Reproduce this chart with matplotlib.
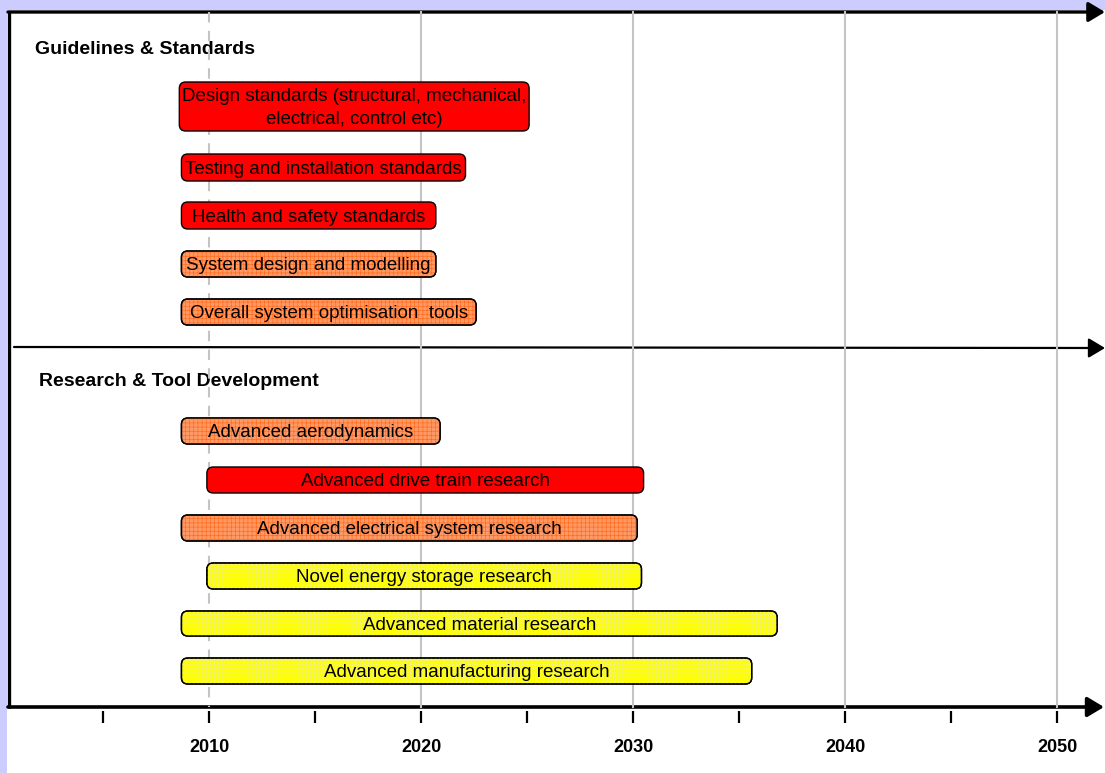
import matplotlib
matplotlib.use('Agg')
import matplotlib.pyplot as plt
from matplotlib.patches import FancyBboxPatch, Rectangle
import numpy as np

plt.rcParams['font.family'] = ['Liberation Sans', 'DejaVu Sans']
plt.rcParams['hatch.linewidth'] = 0.45

# roadmap items: label, start year, end year, colour class
labels = ['Design standards (structural, mechanical,\nelectrical, control etc)',
          'Testing and installation standards',
          'Health and safety standards',
          'System design and modelling',
          'Overall system optimisation  tools',
          'Advanced aerodynamics',
          'Advanced drive train research',
          'Advanced electrical system research',
          'Novel energy storage research',
          'Advanced material research',
          'Advanced manufacturing research']
starts = [2008.6, 2008.7, 2008.7, 2008.7, 2008.7, 2008.7, 2009.9, 2008.7, 2009.9, 2008.7, 2008.7]
ends = [2025.1, 2022.1, 2020.7, 2020.7, 2022.6, 2020.9, 2030.5, 2030.2, 2030.4, 2036.8, 2035.6]
kinds = ['red', 'red', 'red', 'orange', 'orange', 'orange', 'red', 'orange', 'yellow', 'yellow', 'yellow']
sections = ['Guidelines & Standards', 'Research & Tool Development']

major_years = [2010, 2020, 2030, 2040, 2050]
minor_years = [2005, 2010, 2015, 2020, 2025, 2030, 2035, 2040, 2045, 2050]

# layout (pixel rows)
rows_top = [82, 154, 202, 251, 299, 418, 467, 515, 563, 611, 658]
rows_h = [49, 27, 27, 26, 26, 26, 26, 26, 26, 25, 26]
styles = {'red': ('#ff0000', None, None),
          'orange': ('#ff9966', '#ff6a1a', '++++'),
          'yellow': ('#ffff00', '#f2f27a', '++++')}

W, H = 1105, 773
fig = plt.figure(figsize=(W / 100, H / 100), dpi=100, facecolor='#ccccff')

# frame axes in pixels
bg = fig.add_axes([0, 0, 1, 1])
bg.set_xlim(0, W)
bg.set_ylim(H, 0)
bg.axis('off')
bg.add_patch(Rectangle((7, 10), W - 7, H - 10, facecolor='white', edgecolor='none'))

# data axes: years across, pixel rows down
px0, px_per_year = 103.0, 21.2
ax = fig.add_axes([0, 0, 1, 1])
ax.set_xlim(2005 - px0 / px_per_year, 2005 + (W - px0) / px_per_year)
ax.set_ylim(H, 0)
ax.axis('off')
ax.patch.set_alpha(0)

# gridlines
for yr in major_years:
    if yr == 2010:
        ax.plot([yr, yr], [12, 707], color='#c4c4c4', lw=1.5, ls=(0, (5, 4)), zorder=1)
    else:
        ax.plot([yr, yr], [12, 707], color='#c4c4c4', lw=1.5, zorder=1)

# frame lines and arrows
bg.plot([8.5, 8.5], [12, 708], color='black', lw=2.4, solid_capstyle='butt', zorder=3)
arrow_kw = dict(arrowstyle='-|>,head_length=0.5,head_width=0.3', color='black',
                shrinkA=0, shrinkB=0, mutation_scale=20)
bg.annotate('', xy=(1105, 12), xytext=(8, 12), arrowprops=dict(lw=2.4, **arrow_kw),
            annotation_clip=False, zorder=3)
bg.annotate('', xy=(1105, 348), xytext=(14, 347), arrowprops=dict(lw=1.6, **arrow_kw),
            annotation_clip=False, zorder=3)
bg.annotate('', xy=(1104, 707), xytext=(8, 707), arrowprops=dict(lw=2.6, **arrow_kw),
            annotation_clip=False, zorder=3)

# ticks and year labels
ax.vlines(minor_years, 711, 723, color='black', lw=1.6, zorder=3)
for yr in major_years:
    ax.text(yr, 748, str(yr), ha='center', va='center', fontsize=13, fontweight='bold')

# section headings
bg.text(35, 50, sections[0], ha='left', va='center', fontsize=14, fontweight='bold')
bg.text(39, 382, sections[1], ha='left', va='center', fontsize=14, fontweight='bold')

# bars
aspect = px_per_year
for lab, s, e, k, top, h in zip(labels, starts, ends, kinds, rows_top, rows_h):
    face, hcol, hatch = styles[k]
    box = dict(boxstyle='round,pad=0,rounding_size=0.3', mutation_aspect=aspect)
    ax.add_patch(FancyBboxPatch((s, top), e - s, h, facecolor=face, edgecolor='black',
                                lw=1.0, zorder=4, **box))
    if hatch:
        ax.add_patch(FancyBboxPatch((s, top), e - s, h, facecolor='none', edgecolor=hcol,
                                    hatch=hatch, lw=0, zorder=4.5, **box))
        ax.add_patch(FancyBboxPatch((s, top), e - s, h, facecolor='none', edgecolor='black',
                                    lw=1.0, zorder=4.6, **box))
    ax.text((s + e) / 2, top + h / 2 + 1.5, lab, ha='center', va='center', fontsize=13.5,
            color='black', zorder=5, linespacing=1.4)

fig.savefig('out.png', dpi=100, facecolor=fig.get_facecolor())
